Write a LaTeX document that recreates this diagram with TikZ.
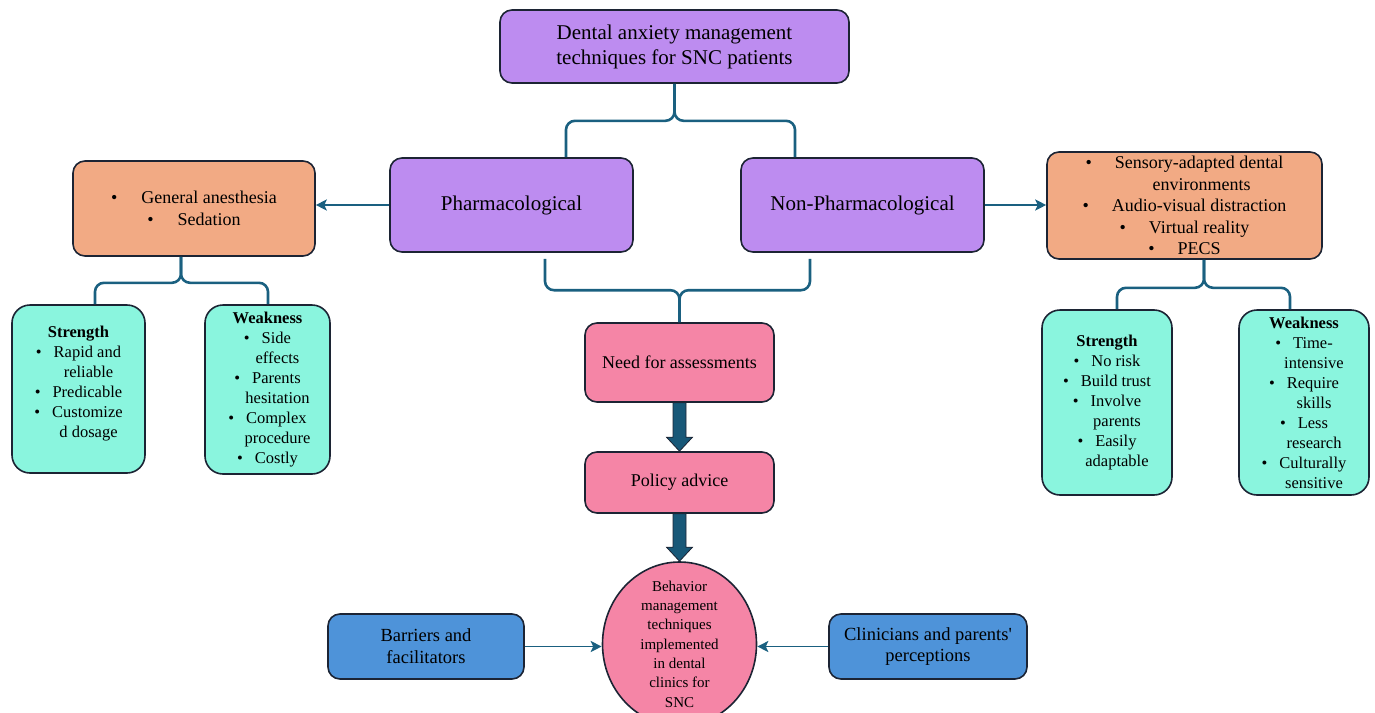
\documentclass[tikz,border=0pt]{standalone}
\usepackage{fontspec}
\setmainfont{Liberation Serif}
\definecolor{dmPurple}{RGB}{189,140,240}
\definecolor{dmOrange}{RGB}{242,170,132}
\definecolor{dmTeal}{RGB}{138,245,222}
\definecolor{dmPink}{RGB}{245,133,166}
\definecolor{dmBlue}{RGB}{78,147,217}
\definecolor{dmEdge}{RGB}{28,36,52}
\definecolor{dmLink}{RGB}{26,96,128}
\definecolor{dmBlock}{RGB}{24,88,120}
\usetikzlibrary{shapes,arrows.meta,positioning,calc}
\newcommand{\bitem}{\textbullet\hspace{12pt}}
\newcommand{\bcont}{\hspace*{20pt}}

\begin{document}
\begin{tikzpicture}[x=1pt,y=-1pt,
    box/.style={draw=dmEdge, line width=1.6pt, rounded corners=12pt, align=center, inner sep=2pt},
    sidebox/.style={box, fill=dmTeal, rounded corners=18pt, font=\fontsize{16.5}{20}\selectfont},
    brace/.style={draw=dmLink, line width=2.6pt, rounded corners=9pt},
    thin/.style={-{Stealth[length=11pt,width=11pt,inset=2.5pt]}, draw=dmLink, line width=2pt},
    bigarrow/.style={fill=dmBlock, draw=dmEdge, line width=0.8pt}]
    \useasboundingbox (0,0) rectangle (1375,712);

    % main boxes
    \node[box, fill=dmPurple, minimum width=349pt, minimum height=73pt, font=\fontsize{21}{25}\selectfont] (top) at (674.5,46.5) {Dental anxiety management\\techniques for SNC patients};
    \node[box, fill=dmPurple, minimum width=243pt, minimum height=94pt, font=\fontsize{21}{25}\selectfont] (pharm) at (511.5,205) {Pharmacological};
    \node[box, fill=dmPurple, minimum width=243pt, minimum height=94pt, font=\fontsize{21}{25}\selectfont] (nonpharm) at (862.5,205) {Non-Pharmacological};

    % options
    \node[box, fill=dmOrange, minimum width=242pt, minimum height=95pt, font=\fontsize{18}{22}\selectfont] (gen) at (194,208.5) {\textbullet\hspace{24pt}General anesthesia\\\textbullet\hspace{24pt}Sedation};
    \node[box, fill=dmOrange, minimum width=275pt, minimum height=107pt, font=\fontsize{18}{21.5}\selectfont] (nonopt) at (1184.5,205.5) {\textbullet\hspace{23pt}Sensory-adapted dental\\\hspace*{34pt}environments\\\textbullet\hspace{23pt}Audio-visual distraction\\\textbullet\hspace{23pt}Virtual reality\\\textbullet\hspace{23pt}PECS};

    % strengths and weaknesses
    \node[sidebox, minimum width=133pt, minimum height=168pt] (lstr) at (78.5,389) {\textbf{Strength}\\\bitem Rapid and\\\bcont reliable\\\bitem Predicable\\\bitem Customize\\\bcont d dosage\\[-6pt]\mbox{}};
    \node[sidebox, minimum width=125pt, minimum height=169pt] (lweak) at (267.5,389.5) {\textbf{Weakness}\\\bitem Side\\\bcont effects\\\bitem Parents\\\bcont hesitation\\\bitem Complex\\\bcont procedure\\\bitem Costly};
    \node[sidebox, minimum width=130pt, minimum height=185pt] (rstr) at (1107,402.5) {\textbf{Strength}\\\bitem No risk\\\bitem Build trust\\\bitem Involve\\\bcont parents\\\bitem Easily\\\bcont adaptable};
    \node[sidebox, minimum width=130pt, minimum height=185pt] (rweak) at (1304,402.5) {\textbf{Weakness}\\\bitem Time-\\\bcont intensive\\\bitem Require\\\bcont skills\\\bitem Less\\\bcont research\\\bitem Culturally\\\bcont sensitive};

    % centre column
    \node[box, fill=dmPink, minimum width=189pt, minimum height=79pt, font=\fontsize{18}{22}\selectfont] (need) at (679.5,362.5) {Need for assessments};
    \node[box, fill=dmPink, minimum width=189pt, minimum height=61pt, font=\fontsize{18}{22}\selectfont] (policy) at (679.5,482.5) {Policy advice};
    \node[ellipse, draw=dmEdge, line width=1.6pt, fill=dmPink, minimum width=154pt, minimum height=164pt, inner sep=0pt] (bmt) at (679.5,644) {};
    \node[align=center, font=\fontsize{15}{19.3}\selectfont] (bmttext) at (bmt.center) {Behavior\\management\\techniques\\implemented\\in dental\\clinics for\\SNC};
    \node[box, fill=dmBlue, minimum width=196pt, minimum height=65pt, font=\fontsize{18.5}{21.7}\selectfont] (barriers) at (426,646.5) {Barriers and\\facilitators};
    \node[box, fill=dmBlue, minimum width=198pt, minimum height=65pt, font=\fontsize{18.5}{21.7}\selectfont] (clinicians) at (928,646.5) {Clinicians and parents\textquotesingle\\perceptions};

    % braces
    \draw[brace] ($(pharm.north)+(54.5,0)$) |- ($(top.south)+(0,37)$) -- (top.south);
    \draw[brace] ($(nonpharm.north)+(-67.5,0)$) |- ($(top.south)+(0,37)$) -- (top.south);
    \draw[brace] ($(pharm.south)+(33.5,6)$) |- ($(need.north)+(0,-32)$) -- (need.north);
    \draw[brace] ($(nonpharm.south)+(-52.5,6)$) |- ($(need.north)+(0,-32)$) -- (need.north);
    \draw[brace] ($(lstr.north)+(16.5,0)$) |- ($(gen.south)+(-13,26)$) -- ($(gen.south)+(-13,0)$);
    \draw[brace] ($(lweak.north)+(0.5,0)$) |- ($(gen.south)+(-13,26)$) -- ($(gen.south)+(-13,0)$);
    \draw[brace] ($(rstr.north)+(10,0)$) |- ($(nonopt.south)+(19.5,28)$) -- ($(nonopt.south)+(19.5,0)$);
    \draw[brace] ($(rweak.north)+(-14,0)$) |- ($(nonopt.south)+(19.5,28)$) -- ($(nonopt.south)+(19.5,0)$);

    % arrows
    \draw[thin] (pharm.west) -- (pharm.west -| gen.east);
    \draw[thin] (nonpharm.east) -- (nonpharm.east -| nonopt.west);
    \draw[thin, line width=1.6pt] (barriers.east) -- (barriers.east -| bmt.west);
    \draw[thin, line width=1.6pt] (clinicians.west) -- (clinicians.west -| bmt.east);

    \draw[bigarrow] ($(need.south)+(-6.5,0)$) -- ($(policy.north)+(-6.5,-14)$) -- ($(policy.north)+(-13,-14)$) -- (policy.north) -- ($(policy.north)+(13,-14)$) -- ($(policy.north)+(6.5,-14)$) -- ($(need.south)+(6.5,0)$) -- cycle;
    \draw[bigarrow] ($(policy.south)+(-6.5,0)$) -- ($(bmt.north)+(-6.5,-14)$) -- ($(bmt.north)+(-13,-14)$) -- (bmt.north) -- ($(bmt.north)+(13,-14)$) -- ($(bmt.north)+(6.5,-14)$) -- ($(policy.south)+(6.5,0)$) -- cycle;
\end{tikzpicture}
\end{document}
